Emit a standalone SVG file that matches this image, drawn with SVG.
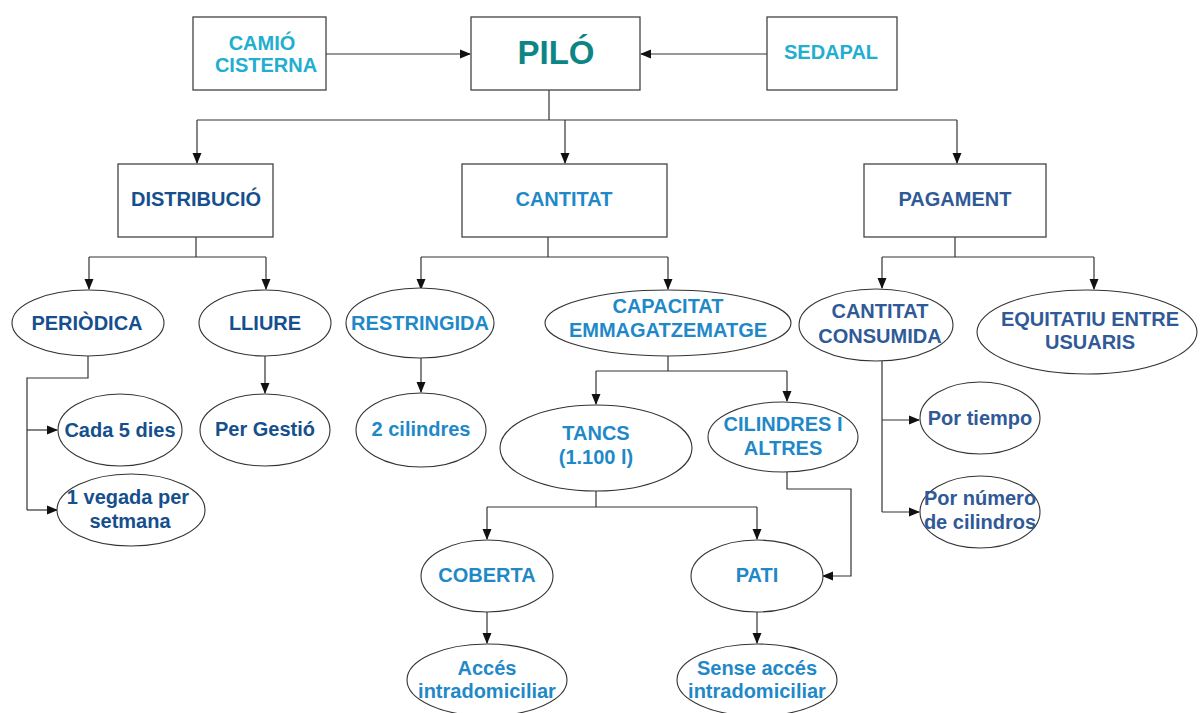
<svg xmlns="http://www.w3.org/2000/svg" width="1201" height="713" viewBox="0 0 1201 713">
  <defs>
    <marker id="arr" markerWidth="11" markerHeight="10" refX="10" refY="5" orient="auto" markerUnits="userSpaceOnUse">
      <path d="M0,0.5 L11,5 L0,9.5 Z" fill="#111"/>
    </marker>
    <style>
      .box { fill: #fff; stroke: #444; stroke-width: 1.3; }
      .ell { fill: #fff; stroke: #333; stroke-width: 1.1; }
      .lnk { fill: none; stroke: #333; stroke-width: 1.2; }
      .arw { fill: none; stroke: #333; stroke-width: 1.2; marker-end: url(#arr); }
      text { font-family: "Liberation Sans", Arial, sans-serif; font-weight: bold; font-size: 20px; text-anchor: middle; }
      .cyan { fill: #22aece; }
      .teal { fill: #0e8585; }
      .dark { fill: #154f8d; }
      .mid { fill: #1f89c8; }
      .pay { fill: #2f5a97; }
    </style>
  </defs>
  <rect width="1201" height="713" fill="#fff"/>

  <g id="connectors">
    <path class="arw" d="M326,54 H470"/>
    <path class="arw" d="M767,54 H641"/>
    <path class="lnk" d="M549,90 V120"/>
    <path class="lnk" d="M197,120 H957"/>
    <path class="arw" d="M197,120 V163"/>
    <path class="arw" d="M565,120 V163"/>
    <path class="arw" d="M957,120 V163"/>

    <path class="lnk" d="M196,237 V257 M89,257 H266"/>
    <path class="arw" d="M89,257 V289"/>
    <path class="arw" d="M266,257 V289"/>
    <path class="lnk" d="M88,356 V378 H27 V510"/>
    <path class="arw" d="M27,430 H57"/>
    <path class="arw" d="M27,510 H57"/>
    <path class="arw" d="M265,356 V393"/>

    <path class="lnk" d="M548,237 V257 M421,257 H668"/>
    <path class="arw" d="M421,257 V289"/>
    <path class="arw" d="M668,257 V289"/>
    <path class="arw" d="M421,358 V392"/>
    <path class="lnk" d="M668,356 V371 M596,371 H787"/>
    <path class="arw" d="M596,371 V404"/>
    <path class="arw" d="M787,371 V401"/>
    <path class="lnk" d="M596,491 V507 M487,507 H757"/>
    <path class="arw" d="M487,507 V539"/>
    <path class="arw" d="M757,507 V539"/>
    <path class="arw" d="M787,472 V489 H851 V576 H823"/>
    <path class="arw" d="M487,612 V643"/>
    <path class="arw" d="M757,612 V643"/>

    <path class="lnk" d="M955,237 V257 M882,257 H1094"/>
    <path class="arw" d="M882,257 V288"/>
    <path class="arw" d="M1094,257 V289"/>
    <path class="lnk" d="M882,361 V512"/>
    <path class="arw" d="M882,420 H919"/>
    <path class="arw" d="M882,512 H919"/>
  </g>

  <g id="camio-cisterna">
    <rect class="box" x="193" y="17" width="133" height="73"/>
    <text class="cyan" x="262" y="50">CAMIÓ</text>
    <text class="cyan" x="266" y="72">CISTERNA</text>
  </g>
  <g id="pilo">
    <rect class="box" x="471" y="17" width="169" height="73"/>
    <text class="teal" x="556" y="64" style="font-size:33px">PILÓ</text>
  </g>
  <g id="sedapal">
    <rect class="box" x="767" y="17" width="130" height="73"/>
    <text class="cyan" x="831" y="59">SEDAPAL</text>
  </g>

  <g id="distribucio">
    <rect class="box" x="118" y="164" width="155" height="73"/>
    <text class="dark" x="196" y="206">DISTRIBUCIÓ</text>
  </g>
  <g id="cantitat">
    <rect class="box" x="462" y="164" width="205" height="73"/>
    <text class="mid" x="564" y="206">CANTITAT</text>
  </g>
  <g id="pagament">
    <rect class="box" x="864" y="164" width="182" height="73"/>
    <text class="pay" x="955" y="206">PAGAMENT</text>
  </g>

  <g id="periodica">
    <ellipse class="ell" cx="88" cy="323" rx="76" ry="33"/>
    <text class="dark" x="87" y="330">PERIÒDICA</text>
  </g>
  <g id="lliure">
    <ellipse class="ell" cx="265" cy="323" rx="66" ry="33"/>
    <text class="dark" x="265" y="330">LLIURE</text>
  </g>
  <g id="cada-5-dies">
    <ellipse class="ell" cx="120" cy="430" rx="62" ry="36"/>
    <text class="dark" x="120" y="437">Cada 5 dies</text>
  </g>
  <g id="vegada-setmana">
    <ellipse class="ell" cx="131" cy="510" rx="74" ry="36"/>
    <text class="dark" x="128" y="504">1 vegada per</text>
    <text class="dark" x="130" y="528">setmana</text>
  </g>
  <g id="per-gestio">
    <ellipse class="ell" cx="265" cy="430" rx="65" ry="36"/>
    <text class="dark" x="265" y="436">Per Gestió</text>
  </g>

  <g id="restringida">
    <ellipse class="ell" cx="420" cy="323" rx="74" ry="35"/>
    <text class="mid" x="420" y="330">RESTRINGIDA</text>
  </g>
  <g id="capacitat">
    <ellipse class="ell" cx="668" cy="323" rx="123" ry="33"/>
    <text class="mid" x="668" y="313">CAPACITAT</text>
    <text class="mid" x="668" y="337">EMMAGATZEMATGE</text>
  </g>
  <g id="dos-cilindres">
    <ellipse class="ell" cx="421" cy="430" rx="65" ry="37"/>
    <text class="mid" x="421" y="436">2 cilindres</text>
  </g>
  <g id="tancs">
    <ellipse class="ell" cx="596" cy="448" rx="96" ry="43"/>
    <text class="mid" x="596" y="440">TANCS</text>
    <text class="mid" x="596" y="464">(1.100 l)</text>
  </g>
  <g id="cilindres-altres">
    <ellipse class="ell" cx="783" cy="437" rx="75" ry="35"/>
    <text class="mid" x="783" y="431">CILINDRES I</text>
    <text class="mid" x="783" y="455">ALTRES</text>
  </g>
  <g id="coberta">
    <ellipse class="ell" cx="487" cy="576" rx="66" ry="36"/>
    <text class="mid" x="487" y="582">COBERTA</text>
  </g>
  <g id="pati">
    <ellipse class="ell" cx="757" cy="576" rx="66" ry="36"/>
    <text class="mid" x="757" y="582">PATI</text>
  </g>
  <g id="acces">
    <ellipse class="ell" cx="487" cy="680" rx="80" ry="36"/>
    <text class="mid" x="487" y="675">Accés</text>
    <text class="mid" x="487" y="698">intradomiciliar</text>
  </g>
  <g id="sense-acces">
    <ellipse class="ell" cx="757" cy="680" rx="80" ry="36"/>
    <text class="mid" x="757" y="675">Sense accés</text>
    <text class="mid" x="757" y="698">intradomiciliar</text>
  </g>

  <g id="cantitat-consumida">
    <ellipse class="ell" cx="876" cy="325" rx="77" ry="36"/>
    <text class="pay" x="880" y="318">CANTITAT</text>
    <text class="pay" x="880" y="343">CONSUMIDA</text>
  </g>
  <g id="equitatiu">
    <ellipse class="ell" cx="1087" cy="332" rx="110" ry="42"/>
    <text class="pay" x="1090" y="326">EQUITATIU ENTRE</text>
    <text class="pay" x="1090" y="349">USUARIS</text>
  </g>
  <g id="por-tiempo">
    <ellipse class="ell" cx="980" cy="418" rx="60" ry="36"/>
    <text class="pay" x="980" y="425">Por tiempo</text>
  </g>
  <g id="por-numero">
    <ellipse class="ell" cx="980" cy="512" rx="60" ry="36"/>
    <text class="pay" x="980" y="505">Por número</text>
    <text class="pay" x="980" y="529">de cilindros</text>
  </g>
</svg>
